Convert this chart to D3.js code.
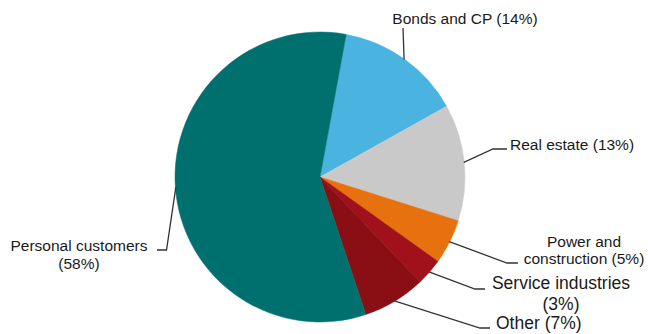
<!DOCTYPE html>
<html>
<head>
<meta charset="utf-8">
<script src="https://cdn.jsdelivr.net/npm/d3@7"></script>
<style>
  html, body { margin: 0; padding: 0; background: #fff; }
  text { font-family: "Liberation Sans", Arial, sans-serif; fill: #1a1a1a; }
</style>
</head>
<body>
<div id="chart"></div>
<script>
// data, clockwise from the top
const categories = ['Bonds and CP', 'Real estate', 'Power and construction', 'Service industries', 'Other', 'Personal customers'];
const shares = [14, 13, 5, 3, 7, 58];
const labelLines = [
  ['Bonds and CP (14%)'],
  ['Real estate (13%)'],
  ['Power and', 'construction (5%)'],
  ['Service industries', '(3%)'],
  ['Other (7%)'],
  ['Personal customers', '(58%)']
];
const colors = ['#4ab3e0', '#c9c9c9', '#e8710f', '#a0111b', '#8a0f14', '#00706e'];

// label layout: elbow of the leader line, its end, text anchor point
const layout = [
  { elbow: [403, 28], end: [403, 28], tx: 465, ty: 24, anchor: 'middle', size: 15.5, lh: 18 },
  { elbow: [493, 149], end: [507, 149], tx: 510, ty: 149.5, anchor: 'start', size: 15.5, lh: 18 },
  { elbow: [507, 263], end: [518, 263], tx: 584, ty: 246.5, anchor: 'middle', size: 15.5, lh: 17 },
  { elbow: [475, 289], end: [485, 289], tx: 561, ty: 288.5, anchor: 'middle', size: 17.5, lh: 21 },
  { elbow: [480, 328], end: [490, 328], tx: 496, ty: 329, anchor: 'start', size: 17.5, lh: 21 },
  { elbow: [166.5, 250], end: [157, 250], tx: 79, ty: 251, anchor: 'middle', size: 15.5, lh: 18 }
];

const width = 648, height = 334;
const cx = 320, cy = 177, radius = 145;

const svg = d3.select('#chart')
  .append('svg')
  .attr('width', width)
  .attr('height', height);

const data = categories.map((c, i) => ({ name: c, value: shares[i], color: colors[i], lines: labelLines[i], lay: layout[i] }));

const start = 10.4 * Math.PI / 180;
const pie = d3.pie()
  .sort(null)
  .startAngle(start)
  .endAngle(start + 2 * Math.PI)
  .value(d => d.value);

const arc = d3.arc().innerRadius(0).outerRadius(radius);

const g = svg.append('g').attr('transform', `translate(${cx} ${cy})`);

const arcs = pie(data);

g.selectAll('path.slice')
  .data(arcs)
  .enter()
  .append('path')
  .attr('class', 'slice')
  .attr('d', arc)
  .attr('fill', d => d.data.color)
  .attr('stroke', d => d.data.color)
  .attr('stroke-width', 0.5);

// leader lines start on the rim at each slice's mid angle
const rimPoint = d => {
  const a = (d.startAngle + d.endAngle) / 2;
  return [cx + Math.sin(a) * (radius - 0.5), cy - Math.cos(a) * (radius - 0.5)];
};

svg.selectAll('polyline.leader')
  .data(arcs)
  .enter()
  .append('polyline')
  .attr('class', 'leader')
  .attr('points', d => [rimPoint(d), d.data.lay.elbow, d.data.lay.end].map(p => p.join(',')).join(' '))
  .attr('fill', 'none')
  .attr('stroke', '#333')
  .attr('stroke-width', 1.3);

const labels = svg.selectAll('text.label')
  .data(arcs)
  .enter()
  .append('text')
  .attr('class', 'label')
  .attr('text-anchor', d => d.data.lay.anchor)
  .attr('font-size', d => d.data.lay.size);

labels.selectAll('tspan')
  .data(d => d.data.lines.map((t, i) => ({ t, i, lay: d.data.lay })))
  .enter()
  .append('tspan')
  .attr('x', d => d.lay.tx)
  .attr('y', d => d.lay.ty + d.i * d.lay.lh)
  .text(d => d.t);
</script>
</body>
</html>
